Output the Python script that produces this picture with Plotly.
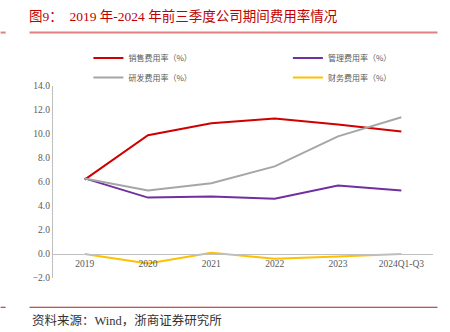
import plotly.graph_objects as go

categories = ["2019", "2020", "2021", "2022", "2023", "2024Q1-Q3"]
sales = [6.2, 9.9, 10.9, 11.3, 10.8, 10.2]
admin = [6.3, 4.7, 4.8, 4.6, 5.7, 5.3]
rnd = [6.3, 5.3, 5.9, 7.3, 9.8, 11.4]
fin = [0.0, -0.8, 0.1, -0.4, -0.2, 0.0]

names = ["销售费用率（%）", "管理费用率（%）", "研发费用率（%）", "财务费用率（%）"]
colors = ["#D00000", "#7030A0", "#A6A6A6", "#FFC000"]
series = [sales, admin, rnd, fin]
legend_ids = ["legend", "legend2", "legend", "legend2"]

W, H = 450, 332
L, R, T, B = 52.5, 16.5, 85.5, 54.3
pw = W - L - R
ph = H - T - B


def px(x):
    return (x - L) / pw


def py(y):
    return (H - B - y) / ph


fig = go.Figure()
for i, (n, c, s, lg) in enumerate(zip(names, colors, series, legend_ids)):
    fig.add_trace(go.Scatter(x=categories, y=s, name=n, mode="lines",
                             line=dict(color=c, width=2), legend=lg,
                             legendgroup="g%d" % i))

serif = "Liberation Serif, Times New Roman, serif"
cjk = "Noto Sans CJK SC"
legfont = dict(family=cjk, size=8, color="#595959")

fig.update_layout(
    width=W, height=H,
    margin=dict(l=L, r=R, t=T, b=B, pad=0),
    paper_bgcolor="white", plot_bgcolor="white",
    showlegend=True,
    legend=dict(orientation="v", x=px(88), y=py(43), xanchor="left", yanchor="top",
                font=legfont, bgcolor="rgba(0,0,0,0)", itemwidth=30, tracegroupgap=0.5),
    legend2=dict(orientation="v", x=px(288), y=py(43), xanchor="left", yanchor="top",
                 font=legfont, bgcolor="rgba(0,0,0,0)", itemwidth=30, tracegroupgap=0.5),
    xaxis=dict(type="category", range=[-0.5, 5.5], anchor="free", position=2 / 16,
               showline=True, linecolor="#BFBFBF", linewidth=1.3, ticks="",
               showgrid=False, zeroline=False,
               tickfont=dict(family=serif, size=9.5, color="#595959")),
    yaxis=dict(range=[-2, 14], dtick=2, tickformat=".1f", showgrid=False,
               zeroline=False, showline=True, linecolor="#BFBFBF", linewidth=1.3,
               ticks="", ticklen=0,
               tickfont=dict(family=serif, size=9.5, color="#595959")),
    title=dict(text="图9：  2019 年-2024 年前三季度公司期间费用率情况",
               x=29 / W, xanchor="left", y=1 - 16 / H, yanchor="middle",
               font=dict(family="Liberation Serif, " + cjk, size=13.5, color="#C00000")),
)

# decorative rules
fig.add_shape(type="line", xref="paper", yref="paper", x0=px(0), x1=px(5),
              y0=py(32), y1=py(32), line=dict(color="#E08080", width=2))
fig.add_shape(type="line", xref="paper", yref="paper", x0=px(29), x1=px(438),
              y0=py(32), y1=py(32), line=dict(color="#E08080", width=2))
fig.add_shape(type="line", xref="paper", yref="paper", x0=px(0), x1=px(5),
              y0=py(307), y1=py(307), line=dict(color="#B02020", width=1))
fig.add_shape(type="line", xref="paper", yref="paper", x0=px(29), x1=px(438),
              y0=py(307), y1=py(307), line=dict(color="#B02020", width=1))

fig.add_annotation(text="资料来源：Wind，浙商证券研究所", xref="paper", yref="paper",
                   x=px(29), y=py(320), xanchor="left", yanchor="middle", showarrow=False,
                   font=dict(family="Liberation Serif, " + cjk, size=12.5, color="#333333"))

fig.write_html("out.html")
